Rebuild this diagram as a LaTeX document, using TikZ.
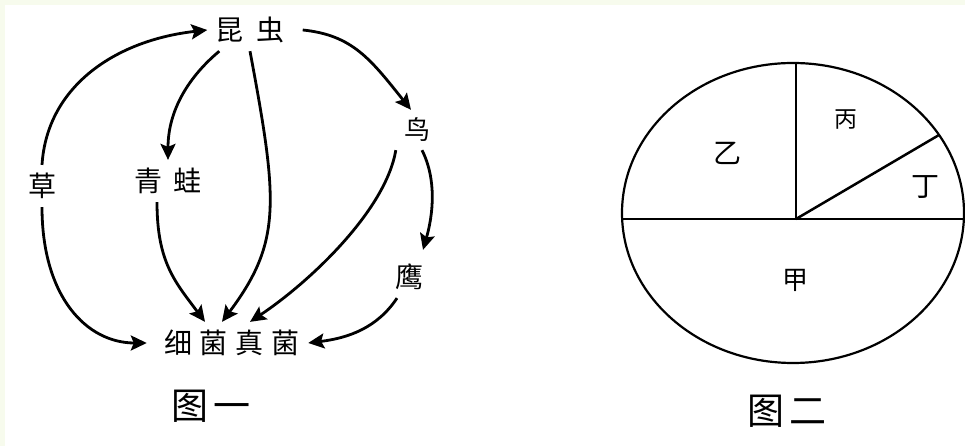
\documentclass[tikz,border=0pt]{standalone}
\usepackage{fontspec}
\newfontfamily\cjk{Noto Sans CJK SC}
\usetikzlibrary{arrows.meta}
\definecolor{bgcream}{RGB}{247,251,237}
\begin{document}
\begin{tikzpicture}[x=1pt,y=1pt,
  lbl/.style={font=\cjk\fontsize{28}{28}\selectfont, inner sep=8pt},
  small/.style={font=\cjk\fontsize{26}{26}\selectfont, inner sep=8pt},
  title/.style={font=\cjk\fontsize{37}{37}\selectfont, inner sep=2pt},
  pielbl/.style={font=\cjk\fontsize{26}{26}\selectfont, inner sep=0pt},
  conn/.style={line width=2.8pt, -{Stealth[length=16pt,width=15pt,inset=3pt]}},
  pieline/.style={line width=2.5pt},
  ]
\fill[bgcream] (0,0) rectangle (965,446);
\fill[white] (5,0) rectangle (965,441);
\useasboundingbox (0,0) rectangle (965,446);

% ---- Figure 1: food web ----
\node[lbl] (kc) at (250,416) {昆\hspace{13pt}虫};
\node[lbl] (cao) at (42,260) {草};
\node[lbl] (wa) at (168,265) {青\hspace{11pt}蛙};
\node[small] (niao) at (417,316) {鸟};
\node[small, font=\cjk\fontsize{28}{28}\selectfont] (ying) at (409,169) {鹰};
\node[lbl] (xj) at (232,103) {细\hspace{8pt}菌\hspace{8pt}真\hspace{8pt}菌};
\node[title] (f1) at (211,40) {图\hspace{5pt}一};

\draw[conn] (cao.north) .. controls +(5,80) and +(-90,-10) .. (kc.west);
\draw[conn] ([xshift=12pt]kc.south west) .. controls +(-30,-25) and +(0,50) .. (wa.north);
\draw[conn] (kc.south) .. controls +(28,-150) and +(60,80) .. ([xshift=-10pt]xj.north);
\draw[conn] ([xshift=10pt]kc.east) .. controls +(50,-5) and +(-40,50) .. ([xshift=-6pt]niao.north);
\draw[conn] (cao.south) .. controls +(0,-90) and +(-60,0) .. ([xshift=-9pt]xj.west);
\draw[conn] ([xshift=-11pt]wa.south) .. controls +(0,-60) and +(-30,40) .. ([xshift=-27pt]xj.north);
\draw[conn] (niao.south west) .. controls +(-10,-60) and +(60,40) .. ([xshift=18pt]xj.north);
\draw[conn] ([xshift=5pt]niao.south) .. controls +(15,-30) and +(10,35) .. ([xshift=14pt,yshift=6pt]ying.north);
\draw[conn] ([xshift=-12pt]ying.south) .. controls +(-20,-30) and +(40,5) .. (xj.east);

% ---- Figure 2: pie chart ----
\draw[line width=2.2pt] (793,233) ellipse [x radius=171pt, y radius=150pt];
\coordinate (O) at (796,227);
\coordinate (L) at (622.1,227);
\coordinate (R) at (963.9,227);
\coordinate (T) at (796,383);
\coordinate (D) at (939,311);
\draw[pieline] (L) -- (R);
\draw[pieline] (O) -- (T);
\draw[pieline] (O) -- (D);

\node[pielbl, font=\cjk\fontsize{28}{28}\selectfont] (yi) at (727,293) {乙};
\node[pielbl, font=\cjk\fontsize{23}{23}\selectfont] (bing) at (846,326) {丙};
\node[pielbl, font=\cjk\fontsize{28}{28}\selectfont] (ding) at (925,259) {丁};
\node[pielbl] (jia) at (795,166) {甲};
\node[title] (f2) at (787,35) {图\hspace{5pt}二};
\end{tikzpicture}
\end{document}
